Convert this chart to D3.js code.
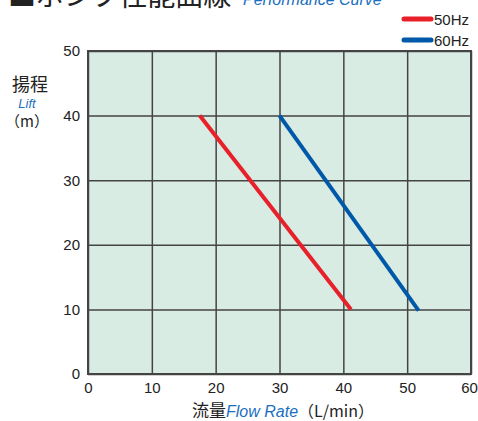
<!DOCTYPE html>
<html><head><meta charset="utf-8">
<script src="https://cdn.jsdelivr.net/npm/d3@7/dist/d3.min.js"></script>
<style>body{margin:0;background:#fff}svg{display:block}</style>
</head><body>
<script>
const xTicks = [0,10,20,30,40,50,60];
const yTicks = [0,10,20,30,40,50];
const series50 = [{x:17.5,y:40},{x:41.2,y:10}];
const series60 = [{x:30,y:40},{x:51.8,y:9.8}];
const seriesNames = ["50Hz","60Hz"];
const seriesColors = ["#e8202a","#0058a8"];

const W=478,H=421;
const svg=d3.select("body").append("svg").attr("width",W).attr("height",H);
const font="'Noto Sans CJK JP','Noto Sans',sans-serif";
const latin="Liberation Sans, Arial, sans-serif";
const m={l:88,r:471,t:51,b:374};
const x=d3.scaleLinear().domain([0,60]).range([m.l,m.r]);
const y=d3.scaleLinear().domain([0,50]).range([m.b,m.t]);

svg.append("rect").attr("x",m.l).attr("y",m.t).attr("width",m.r-m.l).attr("height",m.b-m.t).attr("fill","#d8ece4");

const gx=svg.append("g").attr("transform",`translate(0,${m.b})`)
 .call(d3.axisBottom(x).tickValues(xTicks).tickSize(-(m.b-m.t)).tickPadding(7));
const gy=svg.append("g").attr("transform",`translate(${m.l},0)`)
 .call(d3.axisLeft(y).tickValues(yTicks).tickSize(-(m.r-m.l)).tickPadding(8));
[gx,gy].forEach(g=>{
  g.select(".domain").remove();
  g.selectAll("line").attr("stroke","#444").attr("stroke-width",1.5);
  g.selectAll("text").attr("font-family",latin).attr("font-size",15).attr("fill","#222");
});
gx.selectAll("text").attr("dy","0.8em");
gx.selectAll(".tick").filter(d=>d===60).select("text").attr("x",-2);
svg.append("rect").attr("x",m.l).attr("y",m.t).attr("width",m.r-m.l).attr("height",m.b-m.t).attr("fill","none").attr("stroke","#444").attr("stroke-width",2);

const line=d3.line().x(d=>x(d.x)).y(d=>y(d.y));
[series50,series60].forEach((s,i)=>{
  svg.append("path").datum(s).attr("d",line).attr("fill","none").attr("stroke",seriesColors[i]).attr("stroke-width",4);
});

// legend
seriesNames.forEach((n,i)=>{
  const ly=19+i*21;
  svg.append("line").attr("x1",404).attr("x2",431).attr("y1",ly).attr("y2",ly).attr("stroke",seriesColors[i]).attr("stroke-width",5).attr("stroke-linecap","round");
  svg.append("text").attr("x",434).attr("y",ly+5.5).text(n).attr("font-family",latin).attr("font-size",15).attr("fill","#222");
});

// title
svg.append("text").attr("x",8).attr("y",6).text("■ポンプ性能曲線").attr("font-family",font).attr("font-size",28).attr("fill","#222");
svg.append("text").attr("x",243).attr("y",5).text("Performance Curve").attr("font-family",latin).attr("font-style","italic").attr("font-size",16).attr("fill","#1a6fc0");

// y label
svg.append("text").attr("x",30).attr("y",91).attr("text-anchor","middle").text("揚程").attr("font-family",font).attr("font-size",18).attr("fill","#222");
svg.append("text").attr("x",27).attr("y",108).attr("text-anchor","middle").text("Lift").attr("font-family",latin).attr("font-style","italic").attr("font-size",13).attr("fill","#1a6fc0");
svg.append("text").attr("x",27).attr("y",127).attr("text-anchor","middle").text("（m）").attr("font-family",font).attr("font-size",15).attr("fill","#222");

// x label
const xl=svg.append("text").attr("x",192).attr("y",417).attr("font-family",font).attr("font-size",17).attr("fill","#222");
xl.append("tspan").text("流量");
xl.append("tspan").text("Flow Rate").attr("font-family",latin).attr("font-style","italic").attr("font-size",16).attr("fill","#1a6fc0");
xl.append("tspan").text("（L/min）").attr("font-size",16);
</script>
</body></html>
